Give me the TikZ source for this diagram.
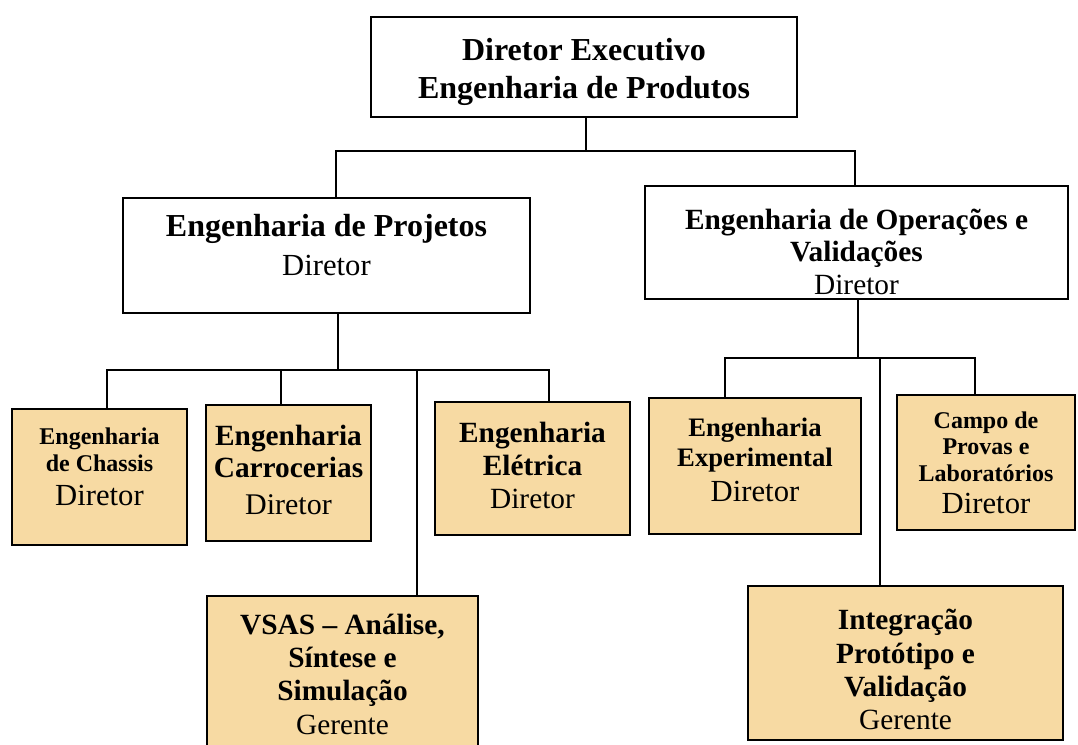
\documentclass[tikz,border=0pt]{standalone}
\usepackage{fontspec}
\setmainfont{Liberation Serif}
\definecolor{boxfill}{RGB}{247,218,163}
\begin{document}
\begin{tikzpicture}[x=0.75pt,y=-0.75pt,
  box/.style={draw=black, line width=1.7pt, fill=white, align=center, inner sep=0pt},
  sub/.style={box, fill=boxfill},
  link/.style={line width=1.4pt, line cap=rect}]
\useasboundingbox (0,0) rectangle (1078,745);
\fill[white] (0,0) rectangle (1078,745);

% level 1
\node[box, minimum width=319.5pt, minimum height=75pt,
      font=\bfseries\fontsize{24}{28.5}\selectfont] (top) at (584,67)
  {\strut\\[-24pt]Diretor Executivo\\Engenharia de Produtos};

% level 2
\node[box, minimum width=305.25pt, minimum height=86.25pt,
      font=\fontsize{23}{29}\selectfont] (l2l) at (326.5,255.5)
  {\textbf{\fontsize{24}{29}\selectfont Engenharia de Projetos}\\Diretor\\[-21.5pt]\strut};
\node[box, minimum width=317.25pt, minimum height=84.75pt,
      font=\fontsize{22}{24.5}\selectfont] (l2r) at (856.5,242.5)
  {\strut\\[-12.5pt]\textbf{Engenharia de Operações e}\\\textbf{Validações}\\Diretor};

% level 3 (Projetos)
\node[sub, minimum width=131.25pt, minimum height=102pt,
      font=\fontsize{18}{20.5}\selectfont] (chassis) at (99.5,477)
  {\textbf{Engenharia}\\\textbf{de Chassis}\\[5pt]{\fontsize{23}{25}\selectfont Diretor}\\[-11pt]\strut};
\node[sub, minimum width=123.75pt, minimum height=102pt,
      font=\fontsize{22}{24}\selectfont] (carroc) at (288.5,473)
  {\textbf{Engenharia}\\\textbf{Carrocerias}\\[4pt]{\fontsize{22.5}{24}\selectfont Diretor}\\[-26.2pt]\strut};
\node[sub, minimum width=146.25pt, minimum height=99.75pt,
      font=\fontsize{22}{24.5}\selectfont] (eletr) at (532.5,468.5)
  {\textbf{Engenharia}\\\textbf{Elétrica}\\Diretor\\[-27pt]\strut};
\node[sub, minimum width=203.25pt, minimum height=117pt,
      font=\fontsize{22}{25}\selectfont] (vsas) at (342.5,674)
  {\textbf{VSAS – Análise,}\\\textbf{Síntese e}\\\textbf{Simulação}\\Gerente};

% level 3 (Operações)
\node[sub, minimum width=159pt, minimum height=102pt,
      font=\fontsize{20}{22.5}\selectfont] (exper) at (755,466)
  {\textbf{Engenharia}\\\textbf{Experimental}\\[3.5pt]{\fontsize{23}{25}\selectfont Diretor}\\[-19.5pt]\strut};
\node[sub, minimum width=133.5pt, minimum height=101.25pt,
      font=\fontsize{18}{20}\selectfont] (campo) at (986,462.5)
  {\textbf{Campo de}\\\textbf{Provas e}\\\textbf{Laboratórios}\\[4pt]{\fontsize{23}{25}\selectfont Diretor}};
\node[sub, minimum width=236.25pt, minimum height=115.5pt,
      font=\fontsize{22}{25}\selectfont] (integr) at (905.5,663)
  {\strut\\[-17pt]\textbf{Integração}\\\textbf{Protótipo e}\\\textbf{Validação}\\Gerente};

% junction points
\coordinate (j1)  at (586,151);
\coordinate (j1l) at (336,151);
\coordinate (j1r) at (855,151);
\coordinate (j2)  at (338,370);
\coordinate (j2a) at (107,370);
\coordinate (j2b) at (281,370);
\coordinate (j2c) at (417,370);
\coordinate (j2d) at (549,370);
\coordinate (j3)  at (858,358);
\coordinate (j3a) at (725,358);
\coordinate (j3b) at (880,358);
\coordinate (j3c) at (975,358);

% connectors
\draw[link] (top.south -| j1) -- (j1);
\draw[link] (l2l.north -| j1l) -- (j1l) -- (j1r) -- (l2r.north -| j1r);

\draw[link] (l2l.south -| j2) -- (j2);
\draw[link] (chassis.north -| j2a) -- (j2a) -- (j2d) -- (eletr.north -| j2d);
\draw[link] (j2b) -- (carroc.north -| j2b);
\draw[link] (j2c) -- (vsas.north -| j2c);

\draw[link] (l2r.south -| j3) -- (j3);
\draw[link] (exper.north -| j3a) -- (j3a) -- (j3c) -- (campo.north -| j3c);
\draw[link] (j3b) -- (integr.north -| j3b);
\end{tikzpicture}
\end{document}
